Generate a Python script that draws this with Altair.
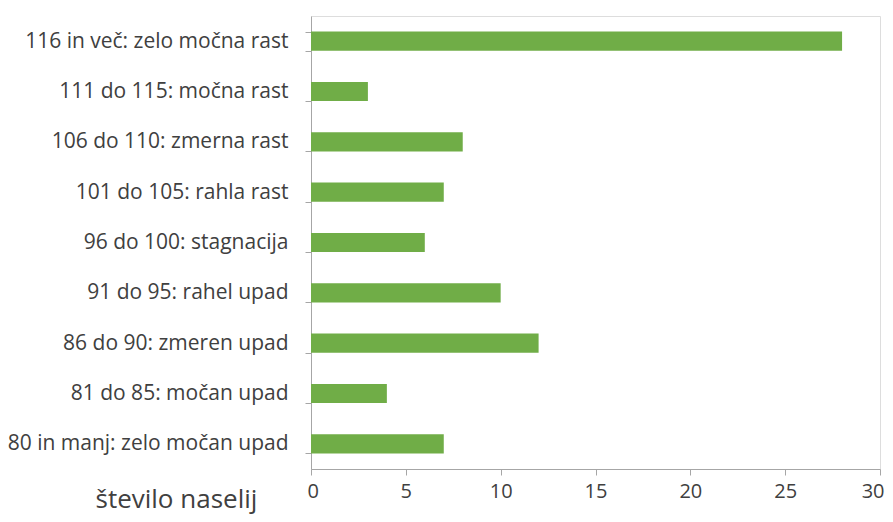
import altair as alt
import pandas as pd

categories = [
    "116 in več: zelo močna rast",
    "111 do 115: močna rast",
    "106 do 110: zmerna rast",
    "101 do 105: rahla rast",
    "96 do 100: stagnacija",
    "91 do 95: rahel upad",
    "86 do 90: zmeren upad",
    "81 do 85: močan upad",
    "80 in manj: zelo močan upad",
]
values = [28, 3, 8, 7, 6, 10, 12, 4, 7]
x_ticks = [0, 5, 10, 15, 20, 25, 30]

df = pd.DataFrame({"kategorija": categories, "vrednost": values})

FONT = "Open Sans"
TEXT = "#404040"
AXIS = "#A6A6A6"

chart = (
    alt.Chart(df)
    .mark_bar(color="#70AD47")
    .encode(
        x=alt.X(
            "vrednost:Q",
            scale=alt.Scale(domain=[0, 30], nice=False, zero=True),
            axis=alt.Axis(
                values=x_ticks,
                title="število naselij",
                titleAnchor="start",
                titleAlign="left",
                titleBaseline="alphabetic",
                titleX=-216,
                titleY=38,
                titleFont=FONT,
                titleFontSize=26,
                titleFontWeight="normal",
                titleColor=TEXT,
                labelFont=FONT,
                labelFontSize=20,
                labelColor=TEXT,
                labelPadding=6,
                labelFlush=True,
                labelFlushOffset=4,
                domainColor=AXIS,
                tickColor=AXIS,
                tickSize=6,
                grid=False,
            ),
        ),
        y=alt.Y(
            "kategorija:N",
            sort=categories,
            scale=alt.Scale(paddingInner=0.62, paddingOuter=0.31),
            axis=alt.Axis(
                title=None,
                tickBand="extent",
                labelFont=FONT,
                labelFontSize=21,
                labelColor=TEXT,
                labelPadding=17,
                labelLimit=400,
                domainColor=AXIS,
                tickColor=AXIS,
                tickSize=6,
                grid=False,
            ),
        ),
    )
    .properties(
        width=569,
        height=453,
        autosize=alt.AutoSizeParams(type="none"),
        padding={"left": 303, "top": 8, "right": 5, "bottom": 45},
    )
    .configure_view(stroke=None)
    .configure(background="white")
)

chart.save("out.html", embed_options={"renderer": "svg", "actions": False})
